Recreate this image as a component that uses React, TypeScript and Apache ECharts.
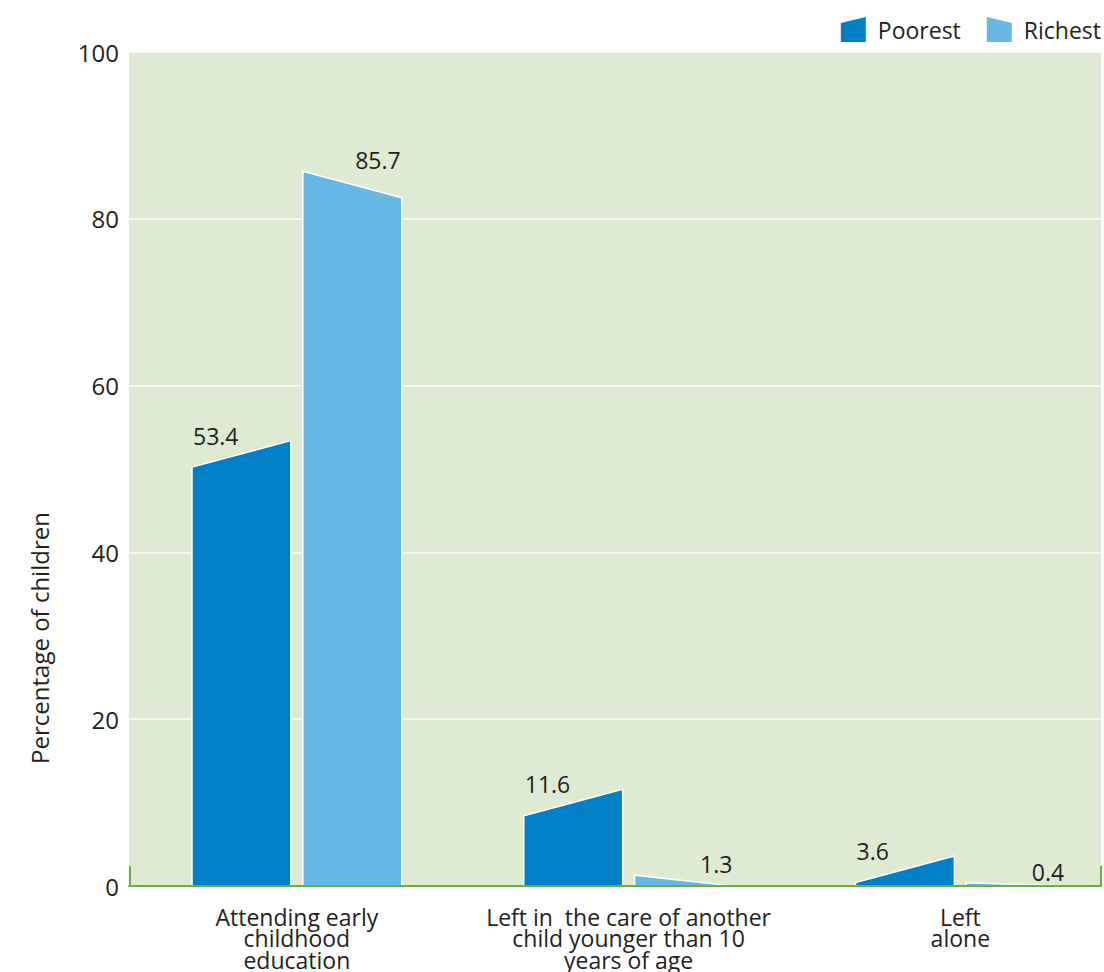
import React, { useEffect, useRef } from "react";
import * as echarts from "echarts";

const categories = [
  "Attending early\nchildhood\neducation",
  "Left in  the care of another\nchild younger than 10\nyears of age",
  "Left\nalone",
];
const categoryPositions = [0, 1, 2];
const poorestValues = [53.4, 11.6, 3.6];
const richestValues = [85.7, 1.3, 0.4];
const yTickValues = [0, 20, 40, 60, 80, 100];
const seriesNames = ["Poorest", "Richest"];
const yAxisTitle = "Percentage of children";

const FONT = "'Open Sans', 'Noto Sans', sans-serif";
const TEXT = "#231f20";
const POOR = "#0080c6";
const RICH = "#66b7e4";
const BG = "#deead2";
const GREEN = "#6ab23e";

const BAR_FRAC = 0.298;
const GAP_FRAC = 0.036;
const SLANT = 26.5;

function makeRenderItem(side: "left" | "right", labelDy: number) {
  return (params: any, api: any) => {
    const i = api.value(0);
    const v = api.value(1);
    const base = api.coord([i, 0]);
    const top = api.coord([i, v]);
    const unit = api.size([1, 0])[0];
    const bw = unit * BAR_FRAC;
    const gap = unit * GAP_FRAC;
    const y0 = base[1];
    const yt = top[1];
    let pts: number[][];
    let x0: number;
    let x1: number;
    if (side === "left") {
      x1 = base[0] - gap / 2;
      x0 = x1 - bw;
      const yl = yt + SLANT;
      if (yl <= y0) pts = [[x0, y0], [x0, yl], [x1, yt], [x1, y0]];
      else {
        const xi = x1 - ((y0 - yt) / SLANT) * bw;
        pts = [[xi, y0], [x1, yt], [x1, y0]];
      }
    } else {
      x0 = base[0] + gap / 2;
      x1 = x0 + bw;
      const yr = yt + SLANT;
      if (yr <= y0) pts = [[x0, y0], [x0, yt], [x1, yr], [x1, y0]];
      else pts = [[x0, y0], [x0, yt], [x1, y0]];
    }
    const align = side === "left" ? "left" : "right";
    return {
      type: "group",
      children: [
        {
          type: "polygon",
          shape: { points: pts },
          style: { fill: api.visual("color"), stroke: "#ffffff", lineWidth: 1.5 },
        },
        {
          type: "text",
          x: side === "left" ? x0 + 1 : x1 - 1,
          y: yt + labelDy,
          style: {
            text: String(v),
            fill: TEXT,
            fontSize: 23,
            fontFamily: FONT,
            align,
            verticalAlign: "middle",
            textAlign: align,
            textVerticalAlign: "middle",
          },
        },
      ],
    };
  };
}

export default function App() {
  const ref = useRef<HTMLDivElement>(null);
  useEffect(() => {
    if (!ref.current) return;
    const chart = echarts.init(ref.current, undefined, { renderer: "svg" });
    const option: any = {
      animation: false,
      backgroundColor: "#ffffff",
      textStyle: { fontFamily: FONT, color: TEXT },
      grid: {
        left: 129,
        right: 3,
        top: 52,
        bottom: 86,
        show: true,
        backgroundColor: BG,
        borderWidth: 0,
      },
      legend: {
        right: 3,
        top: 17,
        padding: 0,
        itemWidth: 25,
        itemHeight: 25,
        itemGap: 26,
        textStyle: { fontSize: 23, color: TEXT, fontFamily: FONT, padding: [0, 0, 0, 7] },
        data: [
          { name: seriesNames[0], icon: "path://M0,6L25,0L25,25L0,25Z" },
          { name: seriesNames[1], icon: "path://M0,0L25,6L25,25L0,25Z" },
        ],
      },
      xAxis: {
        type: "value",
        min: -0.506,
        max: 2.424,
        z: 3,
        axisLine: { show: true, lineStyle: { color: GREEN, width: 2 } },
        axisTick: { show: false },
        splitLine: { show: false },
        axisLabel: {
          customValues: categoryPositions,
          formatter: (val: number) => categories[Math.round(val)] ?? "",
          fontSize: 23,
          lineHeight: 21.5,
          color: TEXT,
          fontFamily: FONT,
          margin: 20,
          align: "center",
        },
      },
      yAxis: {
        type: "value",
        min: yTickValues[0],
        max: yTickValues[yTickValues.length - 1],
        interval: yTickValues[1] - yTickValues[0],
        axisLine: { show: false },
        axisTick: { show: false },
        splitLine: { show: true, lineStyle: { color: "#ffffff", width: 1.5 } },
        axisLabel: { fontSize: 24, color: TEXT, fontFamily: FONT, margin: 10 },
      },
      graphic: [
        {
          type: "text",
          x: 39,
          y: 638,
          rotation: Math.PI / 2,
          style: {
            text: yAxisTitle,
            fill: TEXT,
            fontSize: 24,
            fontFamily: FONT,
            align: "center",
            verticalAlign: "middle",
            textAlign: "center",
            textVerticalAlign: "middle",
          },
        },
        {
          type: "line",
          z: 10,
          shape: { x1: 130, y1: 866, x2: 130, y2: 886 },
          style: { stroke: GREEN, lineWidth: 2 },
        },
        {
          type: "line",
          z: 10,
          shape: { x1: 1101, y1: 866, x2: 1101, y2: 886 },
          style: { stroke: GREEN, lineWidth: 2 },
        },
      ],
      series: [
        {
          name: seriesNames[0],
          type: "custom",
          itemStyle: { color: POOR },
          encode: { x: 0, y: 1 },
          renderItem: makeRenderItem("left", -5),
          data: poorestValues.map((v, i) => [categoryPositions[i], v]),
        },
        {
          name: seriesNames[1],
          type: "custom",
          itemStyle: { color: RICH },
          encode: { x: 0, y: 1 },
          renderItem: makeRenderItem("right", -11),
          data: richestValues.map((v, i) => [categoryPositions[i], v]),
        },
      ],
    };
    chart.setOption(option);
    return () => chart.dispose();
  }, []);
  return (
    <div
      ref={ref}
      style={{ position: "absolute", left: 0, top: 0, width: 1104, height: 972 }}
    />
  );
}
